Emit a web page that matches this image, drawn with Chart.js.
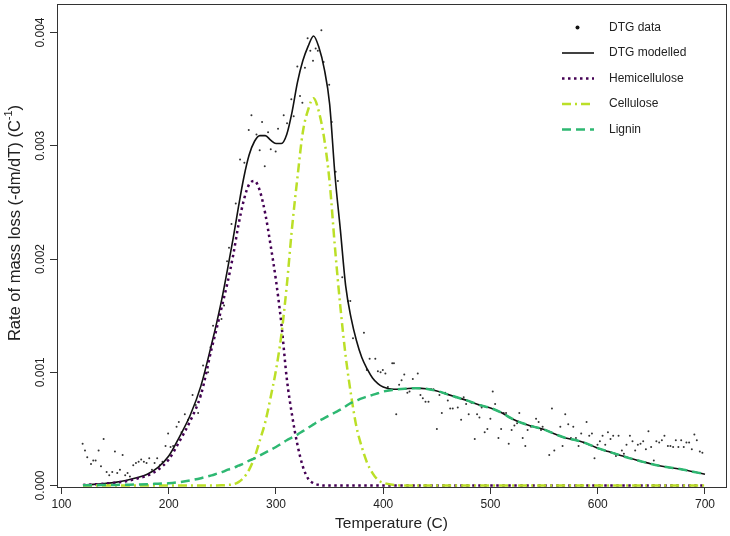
<!DOCTYPE html>
<html>
<head>
<meta charset="utf-8">
<script src="https://cdn.jsdelivr.net/npm/chart.js@4/dist/chart.umd.min.js"></script>
<style>
html, body { margin: 0; padding: 0; background: #fff; }
</style>
</head>
<body>
<canvas id="myChart" width="730" height="536"></canvas>
<script>
'use strict';

// temperature grid of the modelled curves (C)
const modelTemp = [120, 130, 140, 150, 160, 170, 180, 190, 200, 210, 220, 230,
    240, 245, 250, 255, 260, 265, 270, 275, 280, 285, 290, 295,
    300, 305, 310, 315, 320, 325, 330, 335, 340, 345, 350, 355,
    360, 365, 370, 375, 380, 385, 390, 395, 400,
    410, 420, 430, 440, 450, 460, 470, 480, 490, 500,
    510, 520, 530, 540, 550, 560, 570, 580, 590, 600,
    610, 620, 630, 640, 650, 660, 670, 680, 690, 700];

const dtgModelled = [0.000005, 0.00001, 0.000018, 0.000028, 0.000045, 0.000068, 0.0001, 0.00016, 0.00026, 0.00043, 0.00062, 0.00088,
    0.00125, 0.00145, 0.00167, 0.00192, 0.00218, 0.00246, 0.00272, 0.00292, 0.00304, 0.00309, 0.00309, 0.00305,
    0.00302, 0.00302, 0.0031, 0.0033, 0.00356, 0.00375, 0.00388, 0.00397, 0.00387, 0.00368, 0.00337, 0.00274,
    0.00226, 0.00176, 0.00148, 0.00128, 0.00113, 0.00103, 0.00095, 0.0009, 0.00087,
    0.00085, 0.000855, 0.00086, 0.000855, 0.000835, 0.000805, 0.000775, 0.000745, 0.00071, 0.000685,
    0.000645, 0.00059, 0.00055, 0.00052, 0.000495, 0.000455, 0.00042, 0.0004, 0.00037, 0.00033,
    0.0003, 0.00027, 0.00024, 0.000215, 0.00019, 0.00017, 0.000155, 0.00014, 0.00012, 0.0001];

const hemicellulose = [0.000005, 0.00001, 0.000016, 0.000024, 0.000038, 0.00006, 0.000088, 0.00014, 0.00023, 0.00039, 0.00057, 0.0008,
    0.00121, 0.0014, 0.0016, 0.0018, 0.00203, 0.0023, 0.00252, 0.00266, 0.00269, 0.0026, 0.0024, 0.00212,
    0.00181, 0.00143, 0.00095, 0.00062, 0.00036, 0.00017, 0.00006, 0.00002, 0.000005, 0, 0, 0,
    0, 0, 0, 0, 0, 0, 0, 0, 0,
    0, 0, 0, 0, 0, 0, 0, 0, 0, 0,
    0, 0, 0, 0, 0, 0, 0, 0, 0, 0,
    0, 0, 0, 0, 0, 0, 0, 0, 0, 0];

const cellulose = [0, 0, 0, 0, 0, 0, 0, 0, 0, 0, 0, 0,
    0, 0, 0.000002, 0.000005, 0.00001, 0.00003, 0.00007, 0.00014, 0.00025, 0.0004, 0.00056, 0.00078,
    0.00102, 0.00133, 0.00176, 0.00228, 0.00272, 0.00312, 0.00332, 0.00342, 0.0033, 0.00306, 0.00268, 0.0021,
    0.00158, 0.00114, 0.0008, 0.00052, 0.00034, 0.0002, 0.00011, 0.00005, 0.000025,
    0.000005, 0, 0, 0, 0, 0, 0, 0, 0, 0,
    0, 0, 0, 0, 0, 0, 0, 0, 0, 0,
    0, 0, 0, 0, 0, 0, 0, 0, 0, 0];

const lignin = [0.000002, 0.000003, 0.000004, 0.000005, 0.000007, 0.000009, 0.000012, 0.000016, 0.00002, 0.00003, 0.000045, 0.000065,
    0.00009, 0.000105, 0.00012, 0.00014, 0.000155, 0.000175, 0.000195, 0.00022, 0.00024, 0.000265, 0.00029, 0.000315,
    0.00034, 0.00037, 0.0004, 0.000425, 0.00045, 0.00048, 0.00051, 0.00054, 0.00057, 0.000595, 0.00062, 0.000645,
    0.00067, 0.0007, 0.00073, 0.00075, 0.00077, 0.000785, 0.0008, 0.000815, 0.00083,
    0.000845, 0.000855, 0.00086, 0.000855, 0.000835, 0.000805, 0.000775, 0.000745, 0.00071, 0.000685,
    0.000645, 0.00059, 0.00055, 0.00052, 0.000495, 0.000455, 0.00042, 0.0004, 0.00037, 0.00033,
    0.0003, 0.00027, 0.00024, 0.000215, 0.00019, 0.00017, 0.000155, 0.00014, 0.00012, 0.0001];

// measured DTG points
const dtgTemp = [119.7, 121.9, 124.0, 127.5, 129.6, 131.8, 134.6, 136.8, 139.3, 142.1, 144.5, 147.3, 149.8,
    152.0, 154.5, 157.0, 159.4, 161.6, 163.8, 166.9, 169.4, 171.9, 174.3, 176.8, 179.3, 181.8, 184.3,
    186.8, 189.2, 191.7, 194.2, 197.0, 199.4, 201.7, 204.1, 207.3, 209.4, 211.9, 215.0, 218.1, 222.2,
    225.2, 227.4, 229.6, 232.0, 236.7, 238.9, 241.3, 249.2, 251.6, 254.4, 256.2, 258.5, 262.5, 266.5,
    270.5, 274.6, 277.1, 281.8, 284.8, 287.0, 289.5, 292.6, 295.1, 299.7, 301.9, 307.2, 310.3, 314.3,
    316.5, 319.9, 322.4, 324.6, 327.0, 329.5, 332.0, 334.5, 337.0, 339.0, 342.3, 344.4, 349.6, 352.0,
    355.6, 357.7, 361.8, 367.1, 369.3, 371.8, 382.0, 384.7, 387.3, 392.6, 395.0, 397.5, 399.6, 402.0,
    404.3, 408.4, 410.0, 412.1, 414.8, 417.1, 419.6, 422.5, 424.5, 427.6, 432.2, 434.7, 436.9, 439.4,
    442.2, 444.7, 446.8, 450.0, 452.4, 454.6, 457.7, 460.2, 462.4, 464.8, 467.3, 469.5, 472.6, 475.0,
    477.3, 479.7, 482.2, 485.3, 487.5, 489.7, 491.8, 494.6, 497.1, 499.9, 502.1, 504.3, 507.4, 509.9,
    512.3, 514.5, 517.0, 519.7, 522.3, 524.8, 526.9, 530.0, 532.5, 534.6, 537.8, 542.5, 544.9, 547.1,
    548.6, 554.8, 557.3, 559.5, 565.1, 567.2, 569.7, 572.5, 575.0, 577.2, 579.7, 582.1, 584.6, 587.1,
    589.6, 592.1, 594.6, 597.0, 599.8, 602.0, 604.5, 607.0, 609.5, 611.9, 614.4, 617.0, 619.4, 622.5,
    624.4, 626.8, 630.0, 632.4, 634.9, 637.4, 639.9, 642.4, 644.9, 647.3, 649.8, 652.3, 654.7, 657.3,
    659.8, 662.2, 665.4, 667.8, 670.3, 672.8, 675.2, 677.8, 680.2, 682.7, 685.2, 687.7, 690.1, 692.4,
    695.2, 697.6];
const dtgRate = [0.00037, 0.00031, 0.00025, 0.00019, 0.00022, 0.00022, 0.00031, 0.00017, 0.00041, 0.00012, 0.00009, 0.00012, 0.0003,
    0.00011, 0.00014, 0.00027, 0.00009, 0.00011, 0.00008, 0.00018, 0.0002, 0.00021, 0.00023, 0.00021, 0.0002, 0.00024, 0.00014,
    0.0002, 0.00024, 0.00018, 0.00021, 0.00035, 0.00046, 0.00034, 0.00035, 0.00052, 0.00056, 0.00047, 0.00063, 0.00058, 0.0008,
    0.00071, 0.00064, 0.0008, 0.00106, 0.001, 0.00122, 0.00141, 0.00147, 0.00159, 0.00198, 0.0021, 0.00231, 0.00249, 0.00288,
    0.00285, 0.00314, 0.00327, 0.0031, 0.00296, 0.00321, 0.00282, 0.00312, 0.00297, 0.00295, 0.00315, 0.00327, 0.0032, 0.00341,
    0.00326, 0.0037, 0.00344, 0.00338, 0.00369, 0.00395, 0.00384, 0.00375, 0.00386, 0.00384, 0.00402, 0.00374, 0.00354, 0.00321,
    0.00277, 0.00269, 0.00184, 0.00163, 0.00163, 0.0013, 0.00135, 0.00102, 0.00112, 0.00112, 0.00101, 0.001, 0.00102, 0.00099,
    0.00087, 0.00108, 0.00108, 0.00063, 0.00089, 0.00093, 0.00098, 0.00082, 0.00083, 0.00094, 0.00099, 0.0008, 0.00077, 0.00074,
    0.00074, 0.00085, 0.00085, 0.0005, 0.0008, 0.00064, 0.00082, 0.00075, 0.00068, 0.00068, 0.00078, 0.00069, 0.00058, 0.00078,
    0.00072, 0.00063, 0.00073, 0.00041, 0.00063, 0.0006, 0.00069, 0.00047, 0.0005, 0.00059, 0.00083, 0.00072, 0.00042, 0.0005,
    0.00064, 0.00064, 0.00037, 0.00049, 0.00053, 0.00055, 0.00064, 0.00042, 0.00035, 0.00049, 0.00052, 0.00059, 0.00056, 0.00049,
    0.00052, 0.00027, 0.00068, 0.00031, 0.00052, 0.00035, 0.00063, 0.00054, 0.00042, 0.00052, 0.00042, 0.00035, 0.00046, 0.00038,
    0.00056, 0.00044, 0.00046, 0.00024, 0.00036, 0.00039, 0.00044, 0.00036, 0.00047, 0.00041, 0.00044, 0.00026, 0.00044, 0.00031,
    0.00028, 0.00036, 0.00044, 0.00039, 0.00031, 0.00036, 0.00037, 0.00039, 0.00032, 0.00048, 0.00034, 0.00022, 0.00039, 0.00038,
    0.0004, 0.00044, 0.00035, 0.00035, 0.00034, 0.0004, 0.00034, 0.0004, 0.00034, 0.00038, 0.00038, 0.00032, 0.00045, 0.0004,
    0.0003, 0.00029];

const xTicks = [100, 200, 300, 400, 500, 600, 700];
const yTicks = [0, 0.001, 0.002, 0.003, 0.004];
const yTickLabels = ['0.000', '0.001', '0.002', '0.003', '0.004'];

const seriesNames = ['DTG data', 'DTG modelled', 'Hemicellulose', 'Cellulose', 'Lignin'];

const FONT = '"Liberation Sans", Arial, sans-serif';
const colHemi = '#440154';
const colCell = '#BBDF27';
const colLig = '#2EB872';

function pairs(xs, ys) {
    return xs.map((x, i) => ({ x: x, y: ys[i] }));
}

// legend sample styles, same order as seriesNames
const legendStyle = [
    { point: true },
    { color: '#111', width: 1.6, dash: [] },
    { color: colHemi, width: 2.5, dash: [2.5, 3.5] },
    { color: colCell, width: 2.5, dash: [9, 4, 2, 4] },
    { color: colLig, width: 2.5, dash: [9, 5] },
];

const rStyle = {
    id: 'rStyle',
    afterDraw(chart) {
        const ctx = chart.ctx;
        const a = chart.chartArea;
        const ys = chart.scales.y;
        ctx.save();
        // box
        ctx.strokeStyle = '#333';
        ctx.lineWidth = 1;
        ctx.strokeRect(Math.round(a.left) + 0.5, Math.round(a.top) + 0.5, Math.round(a.right - a.left), Math.round(a.bottom - a.top));

        // y tick labels, vertical like R
        ctx.fillStyle = '#222';
        ctx.font = '12px ' + FONT;
        ctx.textAlign = 'center';
        ctx.textBaseline = 'middle';
        yTicks.forEach((v, i) => {
            const py = ys.getPixelForValue(v);
            ctx.save();
            ctx.translate(41, py);
            ctx.rotate(-Math.PI / 2);
            ctx.fillText(yTickLabels[i], 0, 0);
            ctx.restore();
        });

        // y title with superscript
        const mainFont = '16.5px ' + FONT;
        const supFont = '11px ' + FONT;
        const t1 = 'Rate of mass loss (-dm/dT) (C';
        const t2 = '-1';
        const t3 = ')';
        ctx.font = mainFont;
        const w1 = ctx.measureText(t1).width;
        const w3 = ctx.measureText(t3).width;
        ctx.font = supFont;
        const w2 = ctx.measureText(t2).width;
        ctx.save();
        ctx.translate(15, 223);
        ctx.rotate(-Math.PI / 2);
        ctx.textAlign = 'left';
        let x = -(w1 + w2 + w3) / 2;
        ctx.font = mainFont;
        ctx.fillText(t1, x, 0);
        x += w1;
        ctx.font = supFont;
        ctx.fillText(t2, x, -6);
        x += w2;
        ctx.font = mainFont;
        ctx.fillText(t3, x, 0);
        ctx.restore();

        // legend
        ctx.font = '12px ' + FONT;
        ctx.textAlign = 'left';
        seriesNames.forEach((name, i) => {
            const ly = 27.5 + i * 25.5;
            const st = legendStyle[i];
            if (st.point) {
                ctx.fillStyle = '#111';
                ctx.beginPath();
                ctx.arc(577.5, ly, 2, 0, Math.PI * 2);
                ctx.fill();
            } else {
                ctx.strokeStyle = st.color;
                ctx.lineWidth = st.width;
                ctx.setLineDash(st.dash);
                ctx.beginPath();
                ctx.moveTo(562, ly);
                ctx.lineTo(594, ly);
                ctx.stroke();
                ctx.setLineDash([]);
            }
            ctx.fillStyle = '#222';
            ctx.fillText(name, 609, ly);
        });
        ctx.restore();
    }
};

const chart = document.getElementById('myChart');
const myChart = new Chart(chart, {
    data: {
        datasets: [{
            type: 'scatter',
            label: seriesNames[0],
            data: pairs(dtgTemp, dtgRate),
            pointRadius: 1,
            pointBackgroundColor: '#333',
            pointBorderWidth: 0,
            order: 5,
        }, {
            type: 'line',
            label: seriesNames[1],
            data: pairs(modelTemp, dtgModelled),
            borderColor: '#111',
            borderWidth: 1.6,
            pointRadius: 0,
            cubicInterpolationMode: 'monotone',
            order: 4,
        }, {
            type: 'line',
            label: seriesNames[2],
            data: pairs(modelTemp, hemicellulose),
            borderColor: colHemi,
            borderWidth: 2.5,
            borderDash: [2.5, 3.5],
            pointRadius: 0,
            cubicInterpolationMode: 'monotone',
            order: 3,
        }, {
            type: 'line',
            label: seriesNames[3],
            data: pairs(modelTemp, cellulose),
            borderColor: colCell,
            borderWidth: 2.5,
            borderDash: [9, 4, 2, 4],
            pointRadius: 0,
            cubicInterpolationMode: 'monotone',
            order: 2,
        }, {
            type: 'line',
            label: seriesNames[4],
            data: pairs(modelTemp, lignin),
            borderColor: colLig,
            borderWidth: 2.5,
            borderDash: [9, 5],
            pointRadius: 0,
            cubicInterpolationMode: 'monotone',
            order: 1,
        }],
    },
    options: {
        responsive: false,
        animation: false,
        devicePixelRatio: 1,
        layout: { padding: { top: 2, right: 3, left: 0, bottom: 0 } },
        plugins: {
            legend: { display: false },
            tooltip: { enabled: false },
        },
        scales: {
            x: {
                type: 'linear',
                min: 95.8,
                max: 719.6,
                afterBuildTicks: (s) => { s.ticks = xTicks.map(v => ({ value: v })); },
                afterFit: (s) => { s.height = 49; },
                grid: { drawOnChartArea: false, drawTicks: true, tickLength: 7, color: '#333' },
                border: { display: false },
                ticks: {
                    autoSkip: false,
                    maxRotation: 0,
                    padding: 3,
                    color: '#222',
                    font: { family: FONT, size: 12 },
                },
                title: {
                    display: true,
                    text: 'Temperature (C)',
                    color: '#222',
                    font: { family: FONT, size: 15.5 },
                    padding: { top: 0, bottom: 3 },
                },
            },
            y: {
                type: 'linear',
                min: -0.000013,
                max: 0.004252,
                afterBuildTicks: (s) => { s.ticks = yTicks.map(v => ({ value: v })); },
                afterFit: (s) => { s.width = 57; },
                grid: { drawOnChartArea: false, drawTicks: true, tickLength: 7, color: '#333' },
                border: { display: false },
                ticks: { display: false },
            },
        },
    },
    plugins: [rStyle],
});
</script>
</body>
</html>
